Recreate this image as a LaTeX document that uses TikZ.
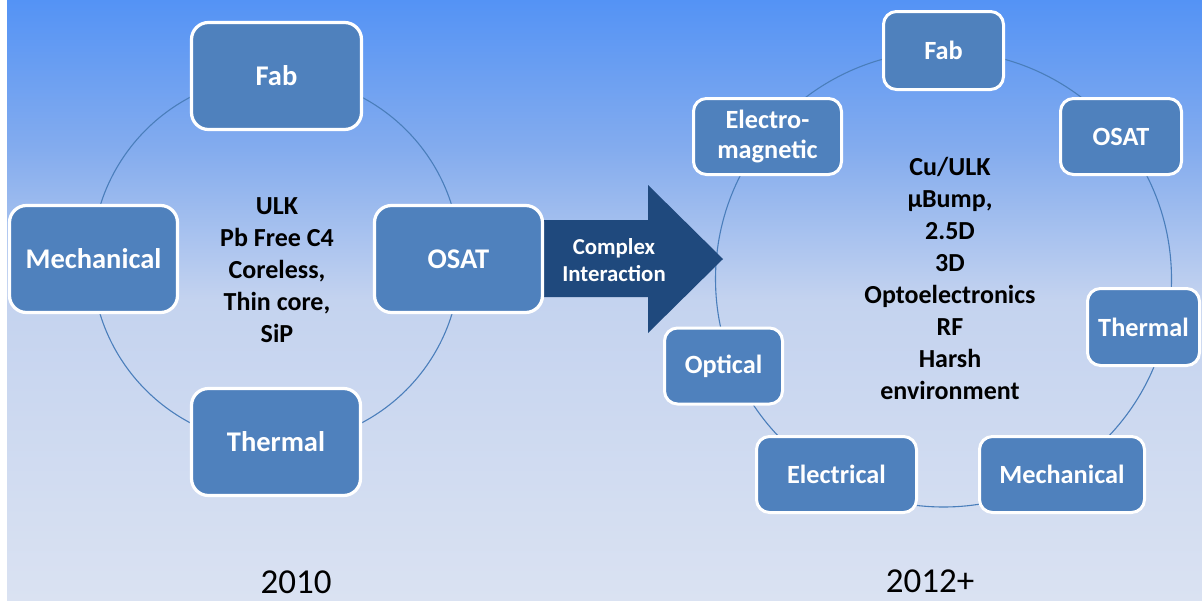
\documentclass[tikz,border=0pt]{standalone}
\usepackage{fontspec}
\setmainfont{Carlito}
\definecolor{bgA}{RGB}{84,147,245}
\definecolor{bgB}{RGB}{132,172,238}
\definecolor{bgC}{RGB}{196,211,239}
\definecolor{bgD}{RGB}{218,226,242}
\definecolor{boxblue}{RGB}{79,129,189}
\definecolor{ringblue}{RGB}{74,126,187}
\definecolor{arrowblue}{RGB}{31,73,125}
\tikzset{
  bigbox/.style={draw=white, line width=3.2pt, fill=boxblue, rounded corners=17pt,
    text=white, font=\bfseries\fontsize{28.5}{30}\selectfont, align=center, inner sep=0pt},
  smallbox/.style={draw=white, line width=3pt, fill=boxblue, rounded corners=13pt,
    text=white, font=\bfseries\fontsize{26.3}{30}\selectfont, align=center, inner sep=0pt},
  ring/.style={draw=ringblue, line width=1.1pt},
  centertext/.style={font=\bfseries\fontsize{26}{32}\selectfont, align=center, text=black, inner sep=0pt},
  yeartext/.style={font=\fontsize{35}{40}\selectfont, text=black, inner sep=0pt}
}
\begin{document}
\begin{tikzpicture}[x=1pt,y=-1pt]
\useasboundingbox (0,0) rectangle (1202,600);
\fill[white] (0,0) rectangle (1202,600);
\shade[top color=bgA, bottom color=bgB] (7,0) rectangle (1202,150.5);
\shade[top color=bgB, bottom color=bgC] (7,150) rectangle (1202,300.5);
\shade[top color=bgC, bottom color=bgD] (7,300) rectangle (1202,600);

% rings
\coordinate (lc) at (276,260);
\coordinate (rc) at (943.5,279);
\draw[ring] (lc) circle[radius=184];
\draw[ring] (rc) circle[radius=228];

% arrow
\fill[arrowblue] (543,220) -- (648,220) -- (648,185) -- (723,259) -- (648,333) -- (648,297) -- (543,297) -- cycle;
\node[font=\bfseries\fontsize{22.8}{27}\selectfont, text=white, align=center, inner sep=0pt] (arrowtxt) at (614,260) {Complex\\Interaction};

% left cycle
\node[bigbox, minimum width=170pt, minimum height=107pt] (lfab) at (276.5,76) {Fab};
\node[bigbox, minimum width=168pt, minimum height=107pt] (lmech) at (93.5,259) {Mechanical};
\node[bigbox, minimum width=168pt, minimum height=107pt] (losat) at (458.5,259) {OSAT};
\node[bigbox, minimum width=169pt, minimum height=107pt] (ltherm) at (276,442) {Thermal};
\node[centertext] (ltext) at (277,270) {ULK\\Pb Free C4\\Coreless,\\Thin core,\\SiP};

% right cycle
\node[smallbox, minimum width=120pt, minimum height=78pt] (rfab) at (943.5,50.5) {Fab};
\node[smallbox, minimum width=148pt, minimum height=76pt] (rem) at (767.5,136.5) {Electro-\\magnetic};
\node[smallbox, minimum width=121pt, minimum height=76pt] (rosat) at (1121,136.5) {OSAT};
\node[smallbox, minimum width=112pt, minimum height=77pt] (rtherm) at (1143.5,327) {Thermal};
\node[smallbox, minimum width=118pt, minimum height=76pt] (ropt) at (723.5,366) {Optical};
\node[smallbox, minimum width=160pt, minimum height=76pt] (relec) at (836.5,474.5) {Electrical};
\node[smallbox, minimum width=165pt, minimum height=76pt] (rmech) at (1062,474.5) {Mechanical};
\node[centertext] (rtext) at (950,278) {Cu/ULK\\µBump,\\2.5D\\3D\\Optoelectronics\\RF\\Harsh\\environment};

% years
\node[yeartext] (y2010) at (296,582) {2010};
\node[yeartext] (y2012) at (930,581) {2012+};
\end{tikzpicture}
\end{document}
